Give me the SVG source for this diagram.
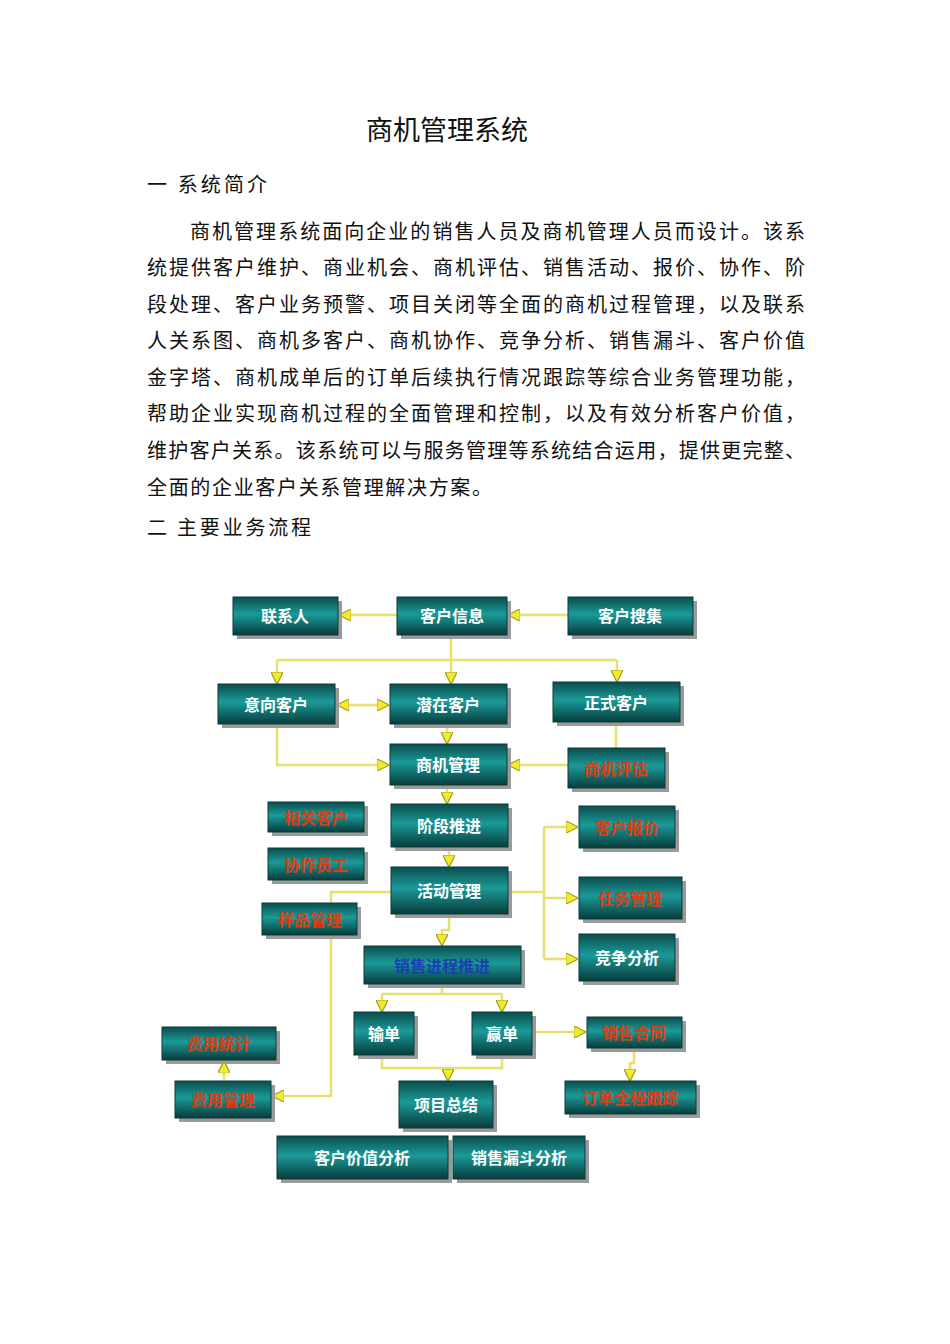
<svg xmlns="http://www.w3.org/2000/svg" width="950" height="1344" viewBox="0 0 950 1344">
<style>
.doc{font-family:"Noto Sans CJK SC",sans-serif;fill:#111;font-size:20px}
.bx{fill:url(#g);stroke:#0a3a3a;stroke-width:1}
.sh{fill:#9a9a9a}
.t{font-family:"Noto Sans CJK SC",sans-serif;font-weight:bold;font-size:16px;fill:#fff;text-anchor:middle;dominant-baseline:central}
.r{fill:#e03a10}.b{fill:#1a3fb0}
.c{fill:none;stroke:#e6e070;stroke-width:2.5;marker-end:url(#a)}
.n{fill:none;stroke:#e6e070;stroke-width:2.5}
</style>
<defs>
<linearGradient id="g" x1="0" y1="0" x2="0" y2="1">
<stop offset="0" stop-color="#0b4d4d"/><stop offset="0.45" stop-color="#1a9a98"/><stop offset="1" stop-color="#083c3c"/>
</linearGradient>
<marker id="a" viewBox="0 0 10 10" refX="9" refY="5" markerWidth="5" markerHeight="5" orient="auto"><path d="M0,0L10,5L0,10z" fill="#f2ea30" stroke="#a0a020" stroke-width="1"/></marker>
<marker id="s" viewBox="0 0 10 10" refX="9" refY="5" markerWidth="5" markerHeight="5" orient="auto-start-reverse"><path d="M0,0L10,5L0,10z" fill="#f2ea30" stroke="#a0a020" stroke-width="1"/></marker>
</defs>
<rect width="950" height="1344" fill="#fff"/>
<text class="doc" x="447" y="140" style="font-size:27px" text-anchor="middle">商机管理系统</text>
<text class="doc" x="147" y="192" textLength="120" lengthAdjust="spacing">一  系统简介</text>
<text class="doc" x="190" y="239" textLength="615" lengthAdjust="spacing">商机管理系统面向企业的销售人员及商机管理人员而设计。该系</text>
<text class="doc" x="147" y="275" textLength="658" lengthAdjust="spacing">统提供客户维护、商业机会、商机评估、销售活动、报价、协作、阶</text>
<text class="doc" x="147" y="312" textLength="658" lengthAdjust="spacing">段处理、客户业务预警、项目关闭等全面的商机过程管理，以及联系</text>
<text class="doc" x="147" y="348" textLength="658" lengthAdjust="spacing">人关系图、商机多客户、商机协作、竞争分析、销售漏斗、客户价值</text>
<text class="doc" x="147" y="385" textLength="658" lengthAdjust="spacing">金字塔、商机成单后的订单后续执行情况跟踪等综合业务管理功能，</text>
<text class="doc" x="147" y="421" textLength="658" lengthAdjust="spacing">帮助企业实现商机过程的全面管理和控制，以及有效分析客户价值，</text>
<text class="doc" x="147" y="458" textLength="658" lengthAdjust="spacing">维护客户关系。该系统可以与服务管理等系统结合运用，提供更完整、</text>
<text class="doc" x="147" y="495" textLength="345" lengthAdjust="spacing">全面的企业客户关系管理解决方案。</text>
<text class="doc" x="147" y="535" textLength="164" lengthAdjust="spacing">二  主要业务流程</text>

<g id="connectors">
<path class="c" d="M397,615H340"/>
<path class="c" d="M568,615H509"/>
<path class="n" d="M451,635V660M277,660H617"/>
<path class="c" d="M277,660V683"/>
<path class="c" d="M451,660V683"/>
<path class="c" d="M617,660V681"/>
<path d="M338,705H388" fill="none" stroke="#e6e070" stroke-width="2.5" marker-start="url(#s)" marker-end="url(#a)"/>
<path class="c" d="M277,724V765H388"/>
<path class="c" d="M447,724V743"/>
<path class="n" d="M616,722V748"/>
<path class="c" d="M568,765H509"/>
<path class="c" d="M447,785V803"/>
<path class="c" d="M449,847V866"/>
<path class="c" d="M449,914V930H442V945"/>
<path class="n" d="M507,892H544M544,827V959"/>
<path class="c" d="M544,827H577"/>
<path class="c" d="M544,898H577"/>
<path class="c" d="M544,959H577"/>
<path class="c" d="M391,892H331V1096H273"/>
<path class="n" d="M442,984V994M382,994H502"/>
<path class="c" d="M382,994V1011"/>
<path class="c" d="M502,994V1011"/>
<path class="n" d="M382,1055V1068H502V1055"/>
<path class="c" d="M448,1068V1080"/>
<path class="c" d="M532,1032H585"/>
<path class="c" d="M634,1048V1063H630V1080"/>
<path class="c" d="M224,1081V1062"/>
</g>

<g id="n1"><rect class="sh" x="237" y="601" width="105" height="38"/><rect class="bx" x="233" y="597" width="105" height="38"/><text class="t" x="285" y="615">联系人</text></g>
<g id="n2"><rect class="sh" x="401" y="601" width="110" height="38"/><rect class="bx" x="397" y="597" width="110" height="38"/><text class="t" x="452" y="615">客户信息</text></g>
<g id="n3"><rect class="sh" x="572" y="601" width="125" height="38"/><rect class="bx" x="568" y="597" width="125" height="38"/><text class="t" x="630" y="615">客户搜集</text></g>
<g id="n4"><rect class="sh" x="222" y="688" width="117" height="40"/><rect class="bx" x="218" y="684" width="117" height="40"/><text class="t" x="276" y="704">意向客户</text></g>
<g id="n5"><rect class="sh" x="394" y="688" width="117" height="40"/><rect class="bx" x="390" y="684" width="117" height="40"/><text class="t" x="448" y="704">潜在客户</text></g>
<g id="n6"><rect class="sh" x="557" y="686" width="127" height="40"/><rect class="bx" x="553" y="682" width="127" height="40"/><text class="t" x="616" y="702">正式客户</text></g>
<g id="n7"><rect class="sh" x="394" y="748" width="117" height="41"/><rect class="bx" x="390" y="744" width="117" height="41"/><text class="t" x="448" y="764">商机管理</text></g>
<g id="n8"><rect class="sh" x="572" y="752" width="97" height="40"/><rect class="bx" x="568" y="748" width="97" height="40"/><text class="t r" x="616" y="768">商机评估</text></g>
<g id="n9"><rect class="sh" x="272" y="806" width="96" height="30"/><rect class="bx" x="268" y="802" width="96" height="30"/><text class="t r" x="316" y="817">相关客户</text></g>
<g id="n10"><rect class="sh" x="272" y="852" width="96" height="32"/><rect class="bx" x="268" y="848" width="96" height="32"/><text class="t r" x="316" y="864">协作员工</text></g>
<g id="n11"><rect class="sh" x="395" y="808" width="117" height="43"/><rect class="bx" x="391" y="804" width="117" height="43"/><text class="t" x="449" y="825">阶段推进</text></g>
<g id="n12"><rect class="sh" x="395" y="871" width="117" height="47"/><rect class="bx" x="391" y="867" width="117" height="47"/><text class="t" x="449" y="890">活动管理</text></g>
<g id="n13"><rect class="sh" x="266" y="907" width="95" height="32"/><rect class="bx" x="262" y="903" width="95" height="32"/><text class="t r" x="310" y="919">样品管理</text></g>
<g id="n14"><rect class="sh" x="368" y="950" width="157" height="38"/><rect class="bx" x="364" y="946" width="157" height="38"/><text class="t b" x="442" y="965">销售进程推进</text></g>
<g id="n15"><rect class="sh" x="583" y="810" width="96" height="42"/><rect class="bx" x="579" y="806" width="96" height="42"/><text class="t r" x="627" y="827">客户报价</text></g>
<g id="n16"><rect class="sh" x="583" y="881" width="103" height="42"/><rect class="bx" x="579" y="877" width="103" height="42"/><text class="t r" x="630" y="898">任务管理</text></g>
<g id="n17"><rect class="sh" x="583" y="938" width="96" height="47"/><rect class="bx" x="579" y="934" width="96" height="47"/><text class="t" x="627" y="957">竞争分析</text></g>
<g id="n18"><rect class="sh" x="358" y="1016" width="60" height="43"/><rect class="bx" x="354" y="1012" width="60" height="43"/><text class="t" x="384" y="1033">输单</text></g>
<g id="n19"><rect class="sh" x="476" y="1016" width="60" height="43"/><rect class="bx" x="472" y="1012" width="60" height="43"/><text class="t" x="502" y="1033">赢单</text></g>
<g id="n20"><rect class="sh" x="591" y="1021" width="95" height="31"/><rect class="bx" x="587" y="1017" width="95" height="31"/><text class="t r" x="634" y="1032">销售合同</text></g>
<g id="n21"><rect class="sh" x="569" y="1085" width="131" height="33"/><rect class="bx" x="565" y="1081" width="131" height="33"/><text class="t r" x="630" y="1097">订单全程跟踪</text></g>
<g id="n22"><rect class="sh" x="403" y="1085" width="94" height="47"/><rect class="bx" x="399" y="1081" width="94" height="47"/><text class="t" x="446" y="1104">项目总结</text></g>
<g id="n23"><rect class="sh" x="166" y="1031" width="114" height="33"/><rect class="bx" x="162" y="1027" width="114" height="33"/><text class="t r" x="219" y="1043">费用统计</text></g>
<g id="n24"><rect class="sh" x="179" y="1085" width="96" height="37"/><rect class="bx" x="175" y="1081" width="96" height="37"/><text class="t r" x="223" y="1099">费用管理</text></g>
<g id="n25"><rect class="sh" x="281" y="1140" width="171" height="43"/><rect class="bx" x="277" y="1136" width="171" height="43"/><text class="t" x="362" y="1157">客户价值分析</text></g>
<g id="n26"><rect class="sh" x="457" y="1140" width="132" height="43"/><rect class="bx" x="453" y="1136" width="132" height="43"/><text class="t" x="519" y="1157">销售漏斗分析</text></g>
</svg>
